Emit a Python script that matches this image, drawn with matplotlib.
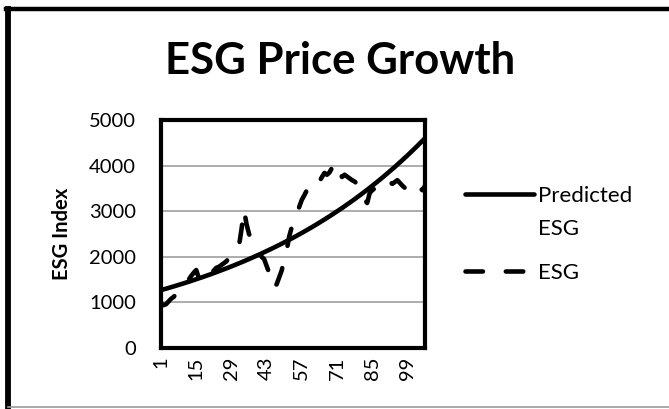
import matplotlib.pyplot as plt
from matplotlib.lines import Line2D

plt.rcParams['font.family'] = ['Lato', 'DejaVu Sans']

# data
periods = list(range(1, 107))
tick_labels = [1, 15, 29, 43, 57, 71, 85, 99]

predicted_esg = [
    1270, 1286, 1301, 1317, 1334, 1350, 1367, 1384, 1401, 1418,
    1436, 1453, 1471, 1490, 1508, 1527, 1545, 1564, 1584, 1603,
    1623, 1643, 1663, 1684, 1705, 1726, 1747, 1768, 1790, 1812,
    1835, 1857, 1880, 1903, 1927, 1951, 1975, 1999, 2024, 2049,
    2074, 2100, 2126, 2152, 2178, 2205, 2232, 2260, 2288, 2316,
    2345, 2373, 2403, 2432, 2462, 2493, 2523, 2555, 2586, 2618,
    2650, 2683, 2716, 2750, 2784, 2818, 2853, 2888, 2924, 2960,
    2996, 3033, 3070, 3108, 3147, 3185, 3225, 3264, 3305, 3345,
    3387, 3428, 3471, 3514, 3557, 3601, 3645, 3690, 3736, 3782,
    3829, 3876, 3924, 3972, 4021, 4071, 4121, 4172, 4223, 4275,
    4328, 4381, 4435, 4490, 4545, 4602,
]

esg = [
    980, 940, 960, 1020, 1080, 1120, 1180, 1250, 1300, 1340,
    1420, 1500, 1580, 1650, 1710, 1540, 1480, 1460, 1540, 1600,
    1660, 1700, 1760, 1780, 1820, 1860, 1900, 1980, 2060, 2140,
    2200, 2240, 2600, 3030, 2720, 2500, 2400, 2300, 2200, 2100,
    2000, 1950, 1800, 1650, 1450, 1320, 1400, 1550, 1700, 1950,
    2150, 2450, 2650, 2800, 2900, 3100, 3250, 3350, 3460, 3500,
    3450, 3500, 3550, 3650, 3750, 3840, 3800, 3850, 3950, 4060,
    3880, 3850, 3750, 3800, 3760, 3720, 3680, 3650, 3600, 3550,
    3450, 3250, 3180, 3400, 3460, 3500, 3560, 3620, 3660, 3700,
    3680, 3640, 3600, 3640, 3680, 3620, 3560, 3510, 3580, 3650,
    3620, 3580, 3530, 3500, 3460, 3560,
]

fs = 14.5
fig = plt.figure(figsize=(6.69, 4.09), dpi=100)
ax = fig.add_axes([0.2407, 0.1491, 0.3946, 0.5575])

ax.plot(periods, predicted_esg, color='black', lw=3.3,
        solid_capstyle='round', label='Predicted')
ax.plot(periods, esg, color='black', lw=3.3, dashes=(3.8, 5.0),
        dash_capstyle='round', label='ESG')

ax.set_xlim(1, 106)
ax.set_ylim(0, 5000)
ax.set_yticks([0, 1000, 2000, 3000, 4000, 5000])
ax.set_xticks(tick_labels)
ax.set_xticklabels([str(t) for t in tick_labels], rotation=90)
ax.tick_params(axis='both', length=0, labelsize=fs)
ax.tick_params(axis='y', pad=18)
ax.tick_params(axis='x', pad=6)
ax.yaxis.grid(True, color='#a6a6a6', lw=1.3)
ax.set_axisbelow(True)
for s in ax.spines.values():
    s.set_linewidth(3)
    s.set_color('black')

ax.set_ylabel('ESG Index', fontsize=fs, fontweight='bold', labelpad=12)
fig.text(0.508, 0.852, 'ESG Price Growth', ha='center', va='center',
         fontsize=31.5, fontweight='bold')

leg = fig.legend(loc='upper left', bbox_to_anchor=(0.665, 0.595), frameon=False,
                 fontsize=16, handlelength=3.1, handletextpad=0.2,
                 labelspacing=2.57)

# second line of the "Predicted ESG" legend label, placed under "Predicted"
fig.canvas.draw()
bb = leg.get_texts()[0].get_window_extent().transformed(fig.transFigure.inverted())
fig.text(bb.x0, bb.y0 - 33 / 409, 'ESG', fontsize=16, ha='left', va='bottom')

# outer chart frame
fig.add_artist(Line2D([0.0118, 0.0118], [0.0, 0.979], transform=fig.transFigure,
                      color='black', lw=4.2))
fig.add_artist(Line2D([0.0085, 1.0], [0.977, 0.977], transform=fig.transFigure,
                      color='black', lw=3.2))
fig.add_artist(Line2D([0.0118, 1.0], [0.004, 0.004], transform=fig.transFigure,
                      color='#999999', lw=1.2))

fig.savefig('out.png', dpi=100)
